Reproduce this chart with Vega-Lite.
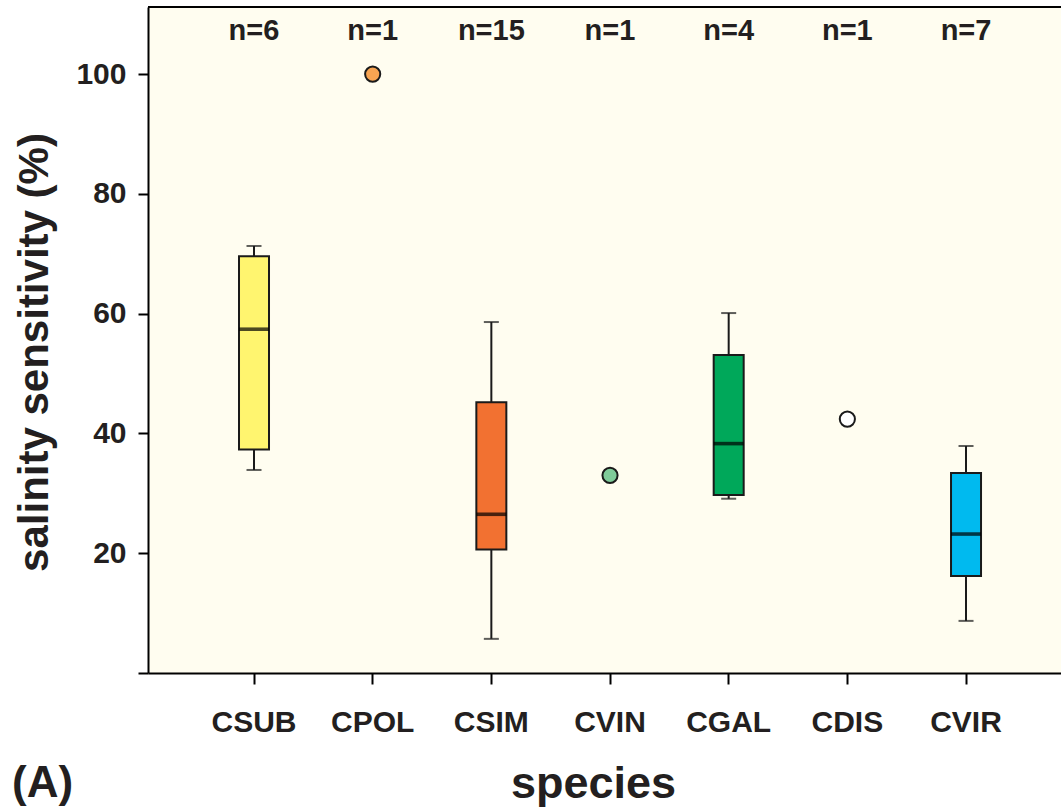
{
  "$schema": "https://vega.github.io/schema/vega-lite/v6.json",
  "width": 913,
  "height": 666,
  "autosize": {"type": "none"},
  "padding": {"left": 148, "top": 7, "right": 0, "bottom": 136},
  "background": "white",
  "title": {"text": "(A)", "orient": "top", "anchor": "start", "frame": "group", "font": "Liberation Sans", "fontSize": 44, "fontWeight": "bold", "color": "#231F20", "baseline": "alphabetic", "offset": 0, "dx": -136, "dy": 835},
  "data": {"values": [
    {"species": "CSUB", "n": "n=6", "lo": 33.9, "q1": 37.3, "med": 57.4, "q3": 69.6, "hi": 71.3},
    {"species": "CPOL", "n": "n=1", "val": 100},
    {"species": "CSIM", "n": "n=15", "lo": 5.7, "q1": 20.6, "med": 26.5, "q3": 45.2, "hi": 58.6},
    {"species": "CVIN", "n": "n=1", "val": 33.0},
    {"species": "CGAL", "n": "n=4", "lo": 29.1, "q1": 29.7, "med": 38.3, "q3": 53.1, "hi": 60.1},
    {"species": "CDIS", "n": "n=1", "val": 42.4},
    {"species": "CVIR", "n": "n=7", "lo": 8.7, "q1": 16.2, "med": 23.2, "q3": 33.4, "hi": 37.9}
  ]},
  "layer": [
    {
      "mark": {"type": "rule", "color": "black", "strokeWidth": 2},
      "encoding": {
        "y": {"datum": 111.2, "type": "quantitative", "scale": {"domain": [0, 111.2], "nice": false, "zero": true}}
      }
    },
    {
      "encoding": {
        "x": {
          "field": "species", "type": "nominal",
          "sort": ["CSUB", "CPOL", "CSIM", "CVIN", "CGAL", "CDIS", "CVIR"],
          "scale": {"type": "band", "paddingInner": 0, "paddingOuter": 0.3468, "align": 0.567},
          "axis": {"title": "species", "labelAngle": 0, "tickSize": 11, "labelPadding": 47, "labelBaseline": "alphabetic", "titleFontSize": 45, "titleBaseline": "alphabetic", "titleX": 445, "titleY": 124}
        }
      },
      "layer": [
        {
          "transform": [{"filter": "datum.q1 != null"}],
          "mark": {"type": "rule", "color": "#1a1a1a", "strokeWidth": 2},
          "encoding": {
            "y": {"field": "lo", "type": "quantitative", "scale": {"domain": [0, 111.2], "nice": false},
              "axis": {"title": "salinity sensitivity (%)", "values": [0, 20, 40, 60, 80, 100], "labelExpr": "datum.value == 0 ? '' : datum.label", "tickSize": 10, "labelPadding": 12, "titleFontSize": 42, "titleBaseline": "alphabetic", "titleX": -101, "titleY": 345, "titleAngle": 270}},
            "y2": {"field": "hi"}
          }
        },
        {
          "transform": [{"filter": "datum.q1 != null"}],
          "mark": {"type": "tick", "color": "#1a1a1a", "size": 15, "thickness": 2},
          "encoding": {"y": {"field": "lo", "type": "quantitative"}}
        },
        {
          "transform": [{"filter": "datum.q1 != null"}],
          "mark": {"type": "tick", "color": "#1a1a1a", "size": 15, "thickness": 2},
          "encoding": {"y": {"field": "hi", "type": "quantitative"}}
        },
        {
          "transform": [{"filter": "datum.q1 != null"}],
          "mark": {"type": "bar", "size": 30, "stroke": "#1a1a1a", "strokeWidth": 2, "opacity": 1},
          "encoding": {
            "y": {"field": "q1", "type": "quantitative"},
            "y2": {"field": "q3"},
            "color": {"field": "species", "type": "nominal", "legend": null,
              "scale": {"domain": ["CSUB", "CPOL", "CSIM", "CVIN", "CGAL", "CDIS", "CVIR"],
                        "range": ["#FFF56F", "#F7A452", "#F27131", "#7FCB99", "#00A85A", "#FFFFFF", "#00BAEF"]}}
          }
        },
        {
          "transform": [{"filter": "datum.q1 != null"}],
          "mark": {"type": "tick", "color": "black", "size": 30, "thickness": 3.6},
          "encoding": {"y": {"field": "med", "type": "quantitative"}}
        },
        {
          "transform": [{"filter": "datum.val != null"}],
          "mark": {"type": "circle", "size": 230, "stroke": "#1a1a1a", "strokeWidth": 2, "opacity": 1},
          "encoding": {
            "y": {"field": "val", "type": "quantitative"},
            "color": {"field": "species", "type": "nominal", "legend": null}
          }
        },
        {
          "mark": {"type": "text", "font": "Liberation Sans", "fontSize": 29, "fontWeight": "bold", "color": "#231F20", "baseline": "alphabetic", "align": "center"},
          "encoding": {
            "y": {"datum": 105.7, "type": "quantitative"},
            "text": {"field": "n"}
          }
        }
      ]
    }
  ],
  "config": {
    "view": {"fill": "#FFFDF0", "stroke": null},
    "axis": {
      "grid": false,
      "domainColor": "black", "domainWidth": 2,
      "tickColor": "black", "tickWidth": 2,
      "labelFont": "Liberation Sans", "labelFontSize": 30, "labelFontWeight": "bold", "labelColor": "#231F20",
      "titleFont": "Liberation Sans", "titleFontWeight": "bold", "titleColor": "#231F20"
    }
  }
}
